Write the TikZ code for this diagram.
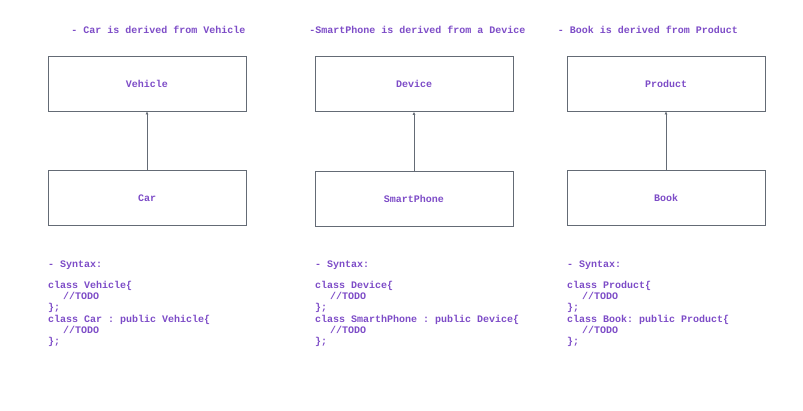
\documentclass[tikz,border=0pt]{standalone}
\usepackage{fontspec}
\setmonofont{Liberation Mono}
\usetikzlibrary{arrows.meta,positioning}
\definecolor{txtpurple}{HTML}{7D4CC7}
\definecolor{edgegray}{HTML}{646B75}
\tikzset{
    classbox/.style={rectangle, draw=edgegray, line width=0.8pt, minimum width=198pt, minimum height=55pt, inner sep=0pt},
    note/.style={font=\ttfamily\bfseries\fontsize{10}{11.2}\selectfont, text=txtpurple},
    codeblock/.style={note, align=left, anchor=north west, inner sep=0pt}
}
\begin{document}
\begin{tikzpicture}[
                        x=1pt, y=-1pt,
                        node distance=59pt,
                        >={Latex[length=3pt,width=3pt]}
                    ]
                    \useasboundingbox (0,0) rectangle (803,410);

                    % Titles
                    \node [note] (carnote) at (158.5,30) {- Car is derived from Vehicle};
                    \node [note] (phonenote) at (417.5,30) {-SmartPhone is derived from a Device};
                    \node [note] (booknote) at (648,30) {- Book is derived from Product};

                    % Blocks
                    \node [classbox, note] (vehicle) at (147,83.5) {Vehicle};
                    \node [classbox, note, below=of vehicle] (car) {Car};
                    \node [classbox, note] (device) at (414,84) {Device};
                    \node [classbox, note, below=of device] (phone) {SmartPhone};
                    \node [classbox, note] (product) at (666,83.5) {Product};
                    \node [classbox, note, below=of product] (book) {Book};

                    % Connections
                    \draw [->, edgegray, line width=0.8pt] (car) -- (vehicle);
                    \draw [->, edgegray, line width=0.8pt] (phone) -- (device);
                    \draw [->, edgegray, line width=0.8pt] (book) -- (product);

                    % Syntax
                    \node [codeblock] (carcode) at (48,260.5) {- Syntax:\\[10pt]class Vehicle\{\\\hspace*{15pt}//TODO\\\};\\class Car : public Vehicle\{\\\hspace*{15pt}//TODO\\\};};
                    \node [codeblock] (phonecode) at (315,260.5) {- Syntax:\\[10pt]class Device\{\\\hspace*{15pt}//TODO\\\};\\class SmarthPhone : public Device\{\\\hspace*{15pt}//TODO\\\};};
                    \node [codeblock] (bookcode) at (567,260.5) {- Syntax:\\[10pt]class Product\{\\\hspace*{15pt}//TODO\\\};\\class Book: public Product\{\\\hspace*{15pt}//TODO\\\};};
                \end{tikzpicture}
\end{document}
